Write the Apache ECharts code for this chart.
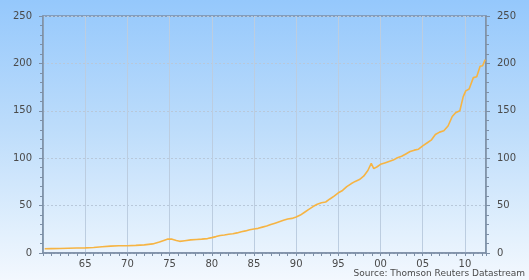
<!DOCTYPE html>
<html><head><meta charset="utf-8">
<script src="https://cdn.jsdelivr.net/npm/echarts@6/dist/echarts.min.js"></script>
<style>
html,body{margin:0;padding:0;}
body{width:529px;height:280px;background:linear-gradient(to bottom,#95c8fc 0%,#bcdcfb 45%,#e4f1fd 85%,#f3f8fe 100%);}
#c{width:529px;height:280px;}
</style></head>
<body><div id="c"></div>
<script>
const years = [1960.2,1961,1962,1963,1964,1965,1966,1967,1968,1969,1970,1971,1972,1973,1973.8,1974.4,1974.8,1975.3,1975.8,1976.2,1976.8,1977.5,1978.2,1978.8,1979.5,1980,1980.5,1981,1981.5,1982,1982.5,1983,1983.5,1984,1984.5,1985,1985.5,1986,1986.5,1987,1987.5,1988,1988.5,1989,1989.5,1990,1990.5,1991,1991.5,1992,1992.5,1993,1993.5,1994,1994.5,1995,1995.5,1996,1996.5,1997,1997.5,1998,1998.5,1998.9,1999.2,1999.6,2000,2000.5,2001,2001.5,2002,2002.5,2003,2003.5,2004,2004.5,2005,2005.5,2006,2006.5,2007,2007.5,2008,2008.5,2008.9,2009.4,2009.8,2010.1,2010.5,2011,2011.4,2011.8,2012.1,2012.4];
const values = [4.5,4.6,4.7,5.0,5.2,5.4,5.8,6.6,7.3,7.6,7.7,8.0,8.6,9.6,11.5,13.5,14.8,14.6,13.2,12.3,13.0,13.8,14.3,14.6,15.2,16.2,17.3,18.5,19.0,19.8,20.3,21.2,22.5,23.3,24.5,25.4,26.0,27.3,28.5,30.0,31.5,33.0,34.5,35.8,36.5,38.0,40.0,43.0,46.0,49.0,51.5,53.0,53.8,57.0,60.0,63.5,66.0,70.0,73.0,75.5,77.5,81.0,87.0,94.5,89.0,91.0,93.5,95.0,96.5,98.0,100.5,102.0,104.5,107.0,108.5,109.5,113.0,116.0,119.0,125.0,127.5,129.0,134.0,144.0,148.0,150.0,165.0,171.0,173.0,185.0,186.0,197.0,197.5,204.0];
const yTicks = [0,50,100,150,200,250];
const sourceText = 'Source: Thomson Reuters Datastream';

const axisColor = '#7d8fa6';
const labelStyle = {color:'#4a4a4a', fontFamily:'DejaVu Sans', fontSize:10, fontWeight:'normal'};
function yAxis(pos){
  return {
    type:'value', position:pos, min:yTicks[0], max:yTicks[yTicks.length-1], interval:50,
    axisLine:{show:true, lineStyle:{color:axisColor, width:1.5}},
    axisTick:{show:true, inside:false, length:4, lineStyle:{color:axisColor}},
    minorTick:{show:true, splitNumber:5, length:3, lineStyle:{color:axisColor}},
    axisLabel:Object.assign({margin:11}, labelStyle),
    splitLine:{show:pos==='left', lineStyle:{color:'#b8c8da', type:[2,2], width:1}}
  };
}
const chart = echarts.init(document.getElementById('c'), null, {renderer:'canvas'});
chart.setOption({
  backgroundColor:'transparent',
  animation:false,
  grid:{left:43, right:43, top:16, bottom:27, show:true, borderColor:axisColor, borderWidth:1.5, backgroundColor:'transparent'},
  xAxis:{
    type:'value', min:1960, max:2012.5, interval:5,
    axisLine:{show:true, lineStyle:{color:axisColor, width:1.5}},
    axisTick:{show:true, length:3, lineStyle:{color:axisColor}},
    minorTick:{show:true, splitNumber:5, length:3, lineStyle:{color:axisColor}},
    axisLabel:Object.assign({margin:6, showMinLabel:false, showMaxLabel:false,
      formatter:v=>{const s=String(Math.round(v)%100); return s.length<2?'0'+s:s;}}, labelStyle),
    splitLine:{show:true, lineStyle:{color:'#bccde0', width:1}}
  },
  yAxis:[yAxis('left'), yAxis('right')],
  series:[{
    type:'line', data:years.map((y,i)=>[y, values[i]]), showSymbol:false,
    lineStyle:{color:'#f6b443', width:1.6}, yAxisIndex:0
  }],
  graphic:[{type:'text', right:4, bottom:2, style:{text:sourceText, fill:'#4a4a4a', font:'9px "DejaVu Sans"'}}]
});
</script></body></html>
